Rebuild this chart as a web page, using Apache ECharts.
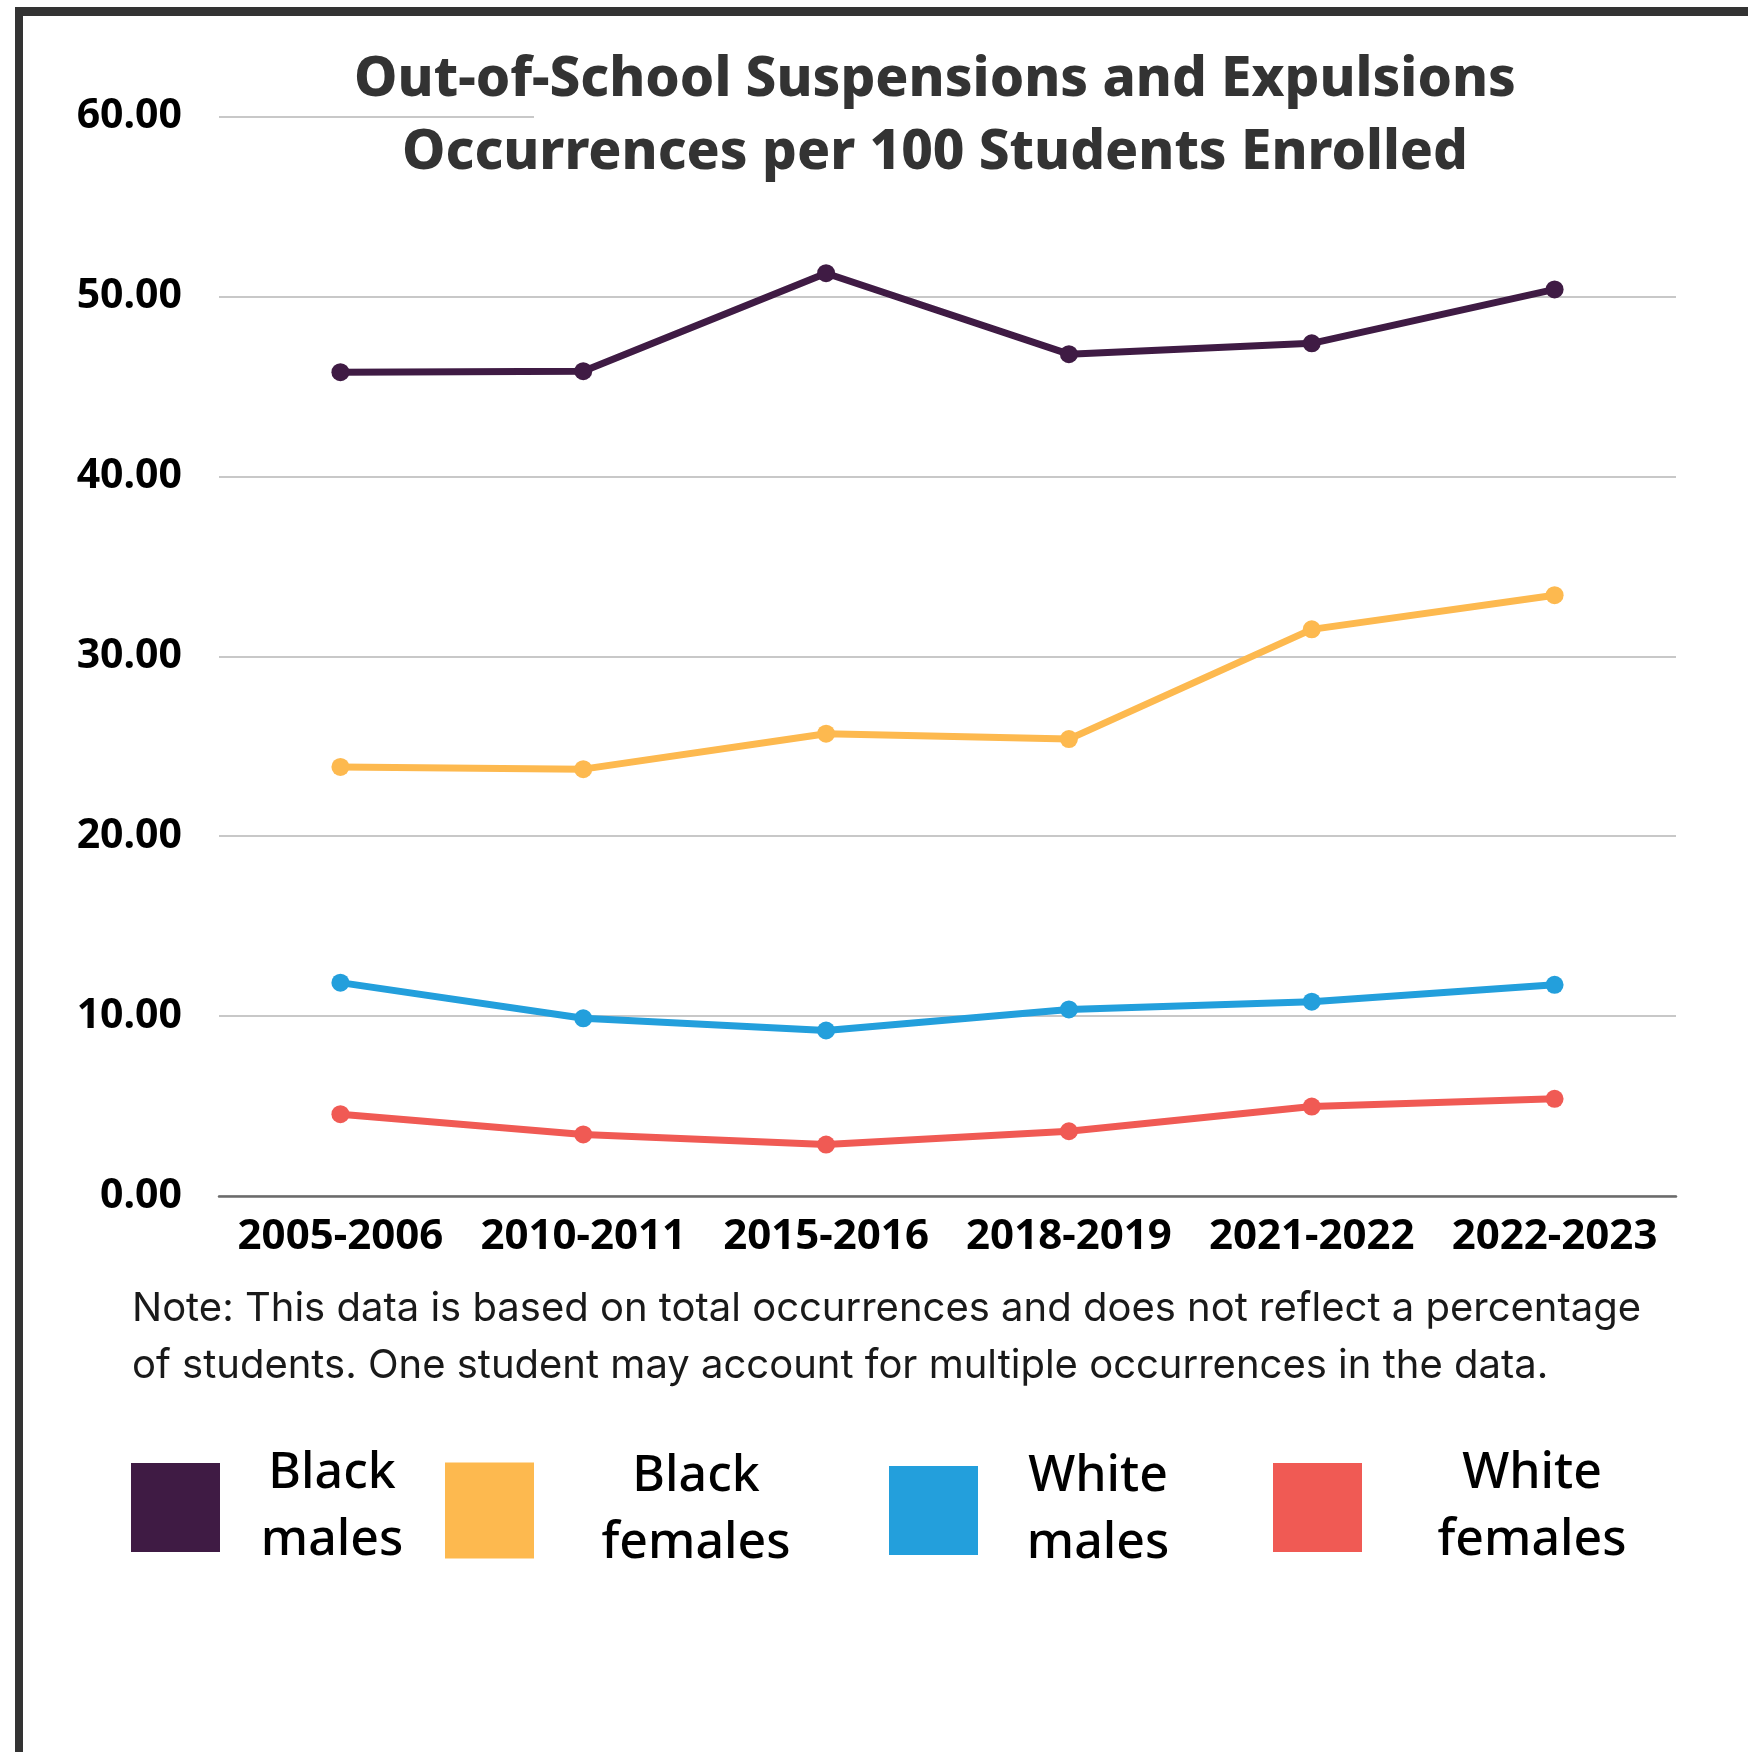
<!DOCTYPE html>
<html>
<head>
<meta charset="utf-8">
<title>Out-of-School Suspensions and Expulsions</title>
<script src="https://cdn.jsdelivr.net/npm/echarts@6/dist/echarts.min.js"></script>
<style>
  html, body { margin: 0; padding: 0; background: #fff; }
  #chart { width: 1748px; height: 1752px; }
</style>
</head>
<body>
<div id="chart"></div>
<script>
// School years on the x axis
const years = ['2005-2006', '2010-2011', '2015-2016', '2018-2019', '2021-2022', '2022-2023'];

// Occurrences per 100 students enrolled
const blackMales = [45.8, 45.85, 51.3, 46.8, 47.4, 50.4];
const blackFemales = [23.85, 23.73, 25.7, 25.4, 31.5, 33.4];
const whiteMales = [11.86, 9.88, 9.2, 10.37, 10.8, 11.74];
const whiteFemales = [4.55, 3.42, 2.86, 3.6, 4.97, 5.4];

const seriesNames = ['Black males', 'Black females', 'White males', 'White females'];
const seriesColors = ['#3F1B44', '#FDB94F', '#239FDC', '#F05A54'];
const legendLines = [['Black', 'males'], ['Black', 'females'], ['White', 'males'], ['White', 'females']];

const titleLines = ['Out-of-School Suspensions and Expulsions', 'Occurrences per 100 Students Enrolled'];
const noteLines = [
  'Note: This data is based on total occurrences and does not reflect a percentage',
  'of students. One student may account for multiple occurrences in the data.'
];

const chart = echarts.init(document.getElementById('chart'), null, { renderer: 'canvas' });

const valueSets = [blackMales, blackFemales, whiteMales, whiteFemales];

const series = seriesNames.map((name, i) => ({
  name: name,
  type: 'line',
  data: valueSets[i],
  symbol: 'circle',
  symbolSize: 18,
  showSymbol: true,
  lineStyle: { width: 7, color: seriesColors[i] },
  itemStyle: { color: seriesColors[i] },
  z: 3
}));

// One legend block per series, each with its own box
const legendLayout = [
  { left: 131, top: 1449, size: [89, 89], textWidth: 214 },
  { left: 445, top: 1452, size: [89, 96], textWidth: 314 },
  { left: 889, top: 1452, size: [89, 89], textWidth: 230 },
  { left: 1273, top: 1449, size: [89, 89], textWidth: 330 }
];

const legends = seriesNames.map((name, i) => ({
  data: [{ name: name, icon: 'rect' }],
  left: legendLayout[i].left,
  top: legendLayout[i].top,
  padding: 0,
  itemWidth: legendLayout[i].size[0],
  itemHeight: legendLayout[i].size[1],
  selectedMode: false,
  formatter: () => legendLines[i].map(w => '{t|' + w + '}').join('\n'),
  textStyle: {
    rich: {
      t: {
        width: legendLayout[i].textWidth,
        align: 'center',
        fontFamily: 'Noto Sans',
        fontWeight: 500,
        fontSize: 50,
        lineHeight: 67,
        color: '#000'
      }
    }
  }
}));

chart.setOption({
  animation: false,
  backgroundColor: '#fff',
  title: [
    {
      text: titleLines.join('\n'),
      left: 935,
      top: 44,
      textAlign: 'center',
      padding: 0,
      textStyle: {
        fontFamily: 'Noto Sans',
        fontWeight: 800,
        fontSize: 54.8,
        lineHeight: 73,
        color: '#333'
      },
      z: 6
    },
    {
      text: noteLines.join('\n'),
      left: 132,
      top: 1280,
      padding: 0,
      textStyle: {
        fontFamily: 'Inter',
        fontWeight: 'normal',
        fontSize: 40,
        lineHeight: 57,
        color: '#1a1a1a'
      }
    }
  ],
  legend: legends,
  grid: {
    left: 219,
    right: 72,
    top: 116.7,
    bottom: 556,
    containLabel: false
  },
  xAxis: {
    type: 'category',
    data: years,
    boundaryGap: true,
    axisTick: { show: false },
    axisLine: { lineStyle: { color: '#6b6b6b', width: 2.5 } },
    axisLabel: {
      margin: 20,
      fontFamily: 'Noto Sans',
      fontWeight: 'bold',
      fontSize: 42,
      color: '#000',
      interval: 0
    }
  },
  yAxis: {
    type: 'value',
    min: 0,
    max: 60,
    interval: 10,
    axisLine: { show: false },
    axisTick: { show: false },
    splitLine: { lineStyle: { color: '#c8c8c8', width: 2 } },
    axisLabel: {
      margin: 37,
      fontFamily: 'Noto Sans',
      fontWeight: 'bold',
      fontSize: 41,
      color: '#000',
      formatter: v => v.toFixed(2)
    }
  },
  graphic: [
    // panel frame, top and left edges
    { type: 'rect', shape: { x: 15, y: 7, width: 1733, height: 9 }, style: { fill: '#333' }, z: 10, silent: true },
    { type: 'rect', shape: { x: 15, y: 7, width: 8, height: 1745 }, style: { fill: '#333' }, z: 10, silent: true },
    // white plate behind the heading
    { type: 'rect', shape: { x: 534, y: 100, width: 1160, height: 34 }, style: { fill: '#fff' }, z: 2, silent: true }
  ],
  series: series
});
</script>
</body>
</html>
